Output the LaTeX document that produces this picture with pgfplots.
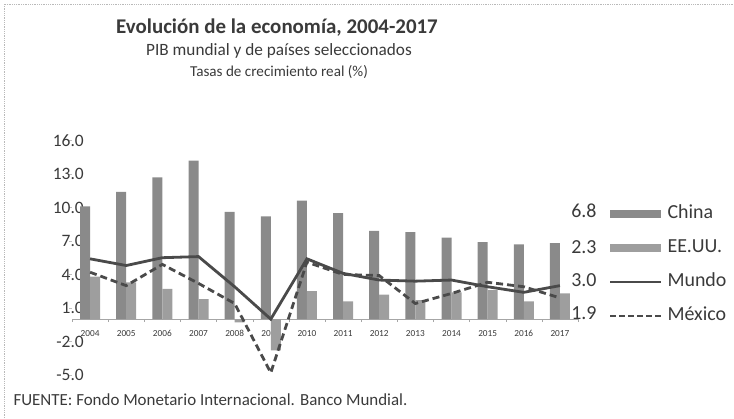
\documentclass[border=0pt]{standalone}
\usepackage{pgfplots}
\pgfplotsset{compat=1.18}
\usepackage{fontspec}
\setmainfont{Carlito}
\definecolor{barchina}{HTML}{8A8A8A}
\definecolor{barus}{HTML}{9E9E9E}
\definecolor{linec}{HTML}{4A4A4A}
\definecolor{txt}{HTML}{3A3A3A}
\begin{document}
\begin{tikzpicture}[x=1bp,y=1bp]
\path[use as bounding box] (0,0) rectangle (734,418);
\draw[gray!55, densely dotted, line width=0.8bp] (4,0) -- (4,414) -- (734,414);
\node[font=\bfseries\fontsize{21}{23}\selectfont, text=txt] at (277,390) {Evolución de la economía, 2004-2017};
\node[font=\fontsize{17.3}{19}\selectfont, text=txt] at (279,367) {PIB mundial y de países seleccionados};
\node[font=\fontsize{15.2}{17}\selectfont, text=txt] at (279,346) {Tasas de crecimiento real (\%)};
\node[font=\fontsize{17}{19}\selectfont, text=txt, anchor=west] at (10,18) {FUENTE: Fondo Monetario Internacional. Banco Mundial.};
\begin{axis}[
  at={(72bp,43bp)}, anchor=south west, scale only axis,
  width=506bp, height=234.6bp,
  xmin=-0.5, xmax=13.5, ymin=-5, ymax=16,
  axis x line=middle, axis y line=left,
  axis line style={-},
  y axis line style={draw=none},
  x axis line style={draw=gray!70, line width=0.8bp},
  xtick={0,1,2,3,4,5,6,7,8,9,10,11,12,13},
  xticklabels={2004,2005,2006,2007,2008,2009,2010,2011,2012,2013,2014,2015,2016,2017},
  major x tick style={draw=none},
  minor xtick={-0.5,0.5,...,13.5},
  minor x tick style={draw=gray!70},
  minor tick length=3bp, major tick length=3bp,
  tick align=outside,
  ytick={-5,-2,1,4,7,10,13,16},
  y tick style={draw=gray!50},
  xticklabel style={font=\fontsize{9.3}{10}\selectfont, text=txt, yshift=-5bp},
  yticklabel style={font=\fontsize{17.5}{19}\selectfont, text=txt, anchor=east, inner sep=0pt, xshift=15bp},
  /pgf/number format/.cd, fixed, fixed zerofill, precision=1, assume math mode=true,
  /pgfplots/.cd,
  ybar, bar width=10bp,
  clip=false,
  legend style={at={(1.055,0.735)}, anchor=north west, draw=none, fill=none,
    font=\fontsize{20}{22}\selectfont, text=txt,
    nodes={inner sep=0pt, text height=14bp, text depth=4bp},
    row sep=16bp},
  legend cell align=left,
]
\addplot[fill=barchina, draw=none, bar shift=-5bp,
  legend image code/.code={\fill[barchina] (0bp,-4bp) rectangle (51bp,4bp); \path (56bp,0bp);}]
  coordinates {(0,10.1) (1,11.4) (2,12.7) (3,14.2) (4,9.6) (5,9.2) (6,10.6) (7,9.5) (8,7.9) (9,7.8) (10,7.3) (11,6.9) (12,6.7) (13,6.8)};
\addlegendentry{China}
\addplot[fill=barus, draw=none, bar shift=5bp,
  legend image code/.code={\fill[barus] (0bp,-4bp) rectangle (51bp,4bp); \path (56bp,0bp);}]
  coordinates {(0,3.8) (1,3.3) (2,2.7) (3,1.8) (4,-0.3) (5,-2.8) (6,2.5) (7,1.6) (8,2.2) (9,1.7) (10,2.4) (11,2.6) (12,1.6) (13,2.3)};
\addlegendentry{EE.UU.}
\addplot[sharp plot, draw=linec, line width=2.8bp, mark=none,
  legend image code/.code={\draw[linec, line width=2.2bp] (0bp,0bp) -- (51bp,0bp); \path (56bp,0bp);}]
  coordinates {(0,5.4) (1,4.8) (2,5.5) (3,5.6) (4,2.9) (5,0.0) (6,5.4) (7,4.1) (8,3.5) (9,3.4) (10,3.5) (11,2.9) (12,2.4) (13,3.0)};
\addlegendentry{Mundo}
\addplot[sharp plot, draw=linec, line width=2.8bp, mark=none, dash pattern=on 7bp off 4bp,
  legend image code/.code={\draw[linec, line width=2.2bp, dash pattern=on 6bp off 3bp] (0bp,0bp) -- (51bp,0bp); \path (56bp,0bp);}]
  coordinates {(0,4.2) (1,3.0) (2,4.9) (3,3.2) (4,1.4) (5,-4.8) (6,5.1) (7,4.0) (8,3.9) (9,1.4) (10,2.3) (11,3.3) (12,2.9) (13,1.9)};
\addlegendentry{México}
\node[anchor=east, font=\fontsize{20}{22}\selectfont, text=txt] at (rel axis cs:1.0435,0.699) {6.8};
\node[anchor=east, font=\fontsize{20}{22}\selectfont, text=txt] at (rel axis cs:1.0435,0.546) {2.3};
\node[anchor=east, font=\fontsize{20}{22}\selectfont, text=txt] at (rel axis cs:1.0435,0.405) {3.0};
\node[anchor=east, font=\fontsize{20}{22}\selectfont, text=txt] at (rel axis cs:1.0435,0.264) {1.9};
\end{axis}
\end{tikzpicture}
\end{document}
